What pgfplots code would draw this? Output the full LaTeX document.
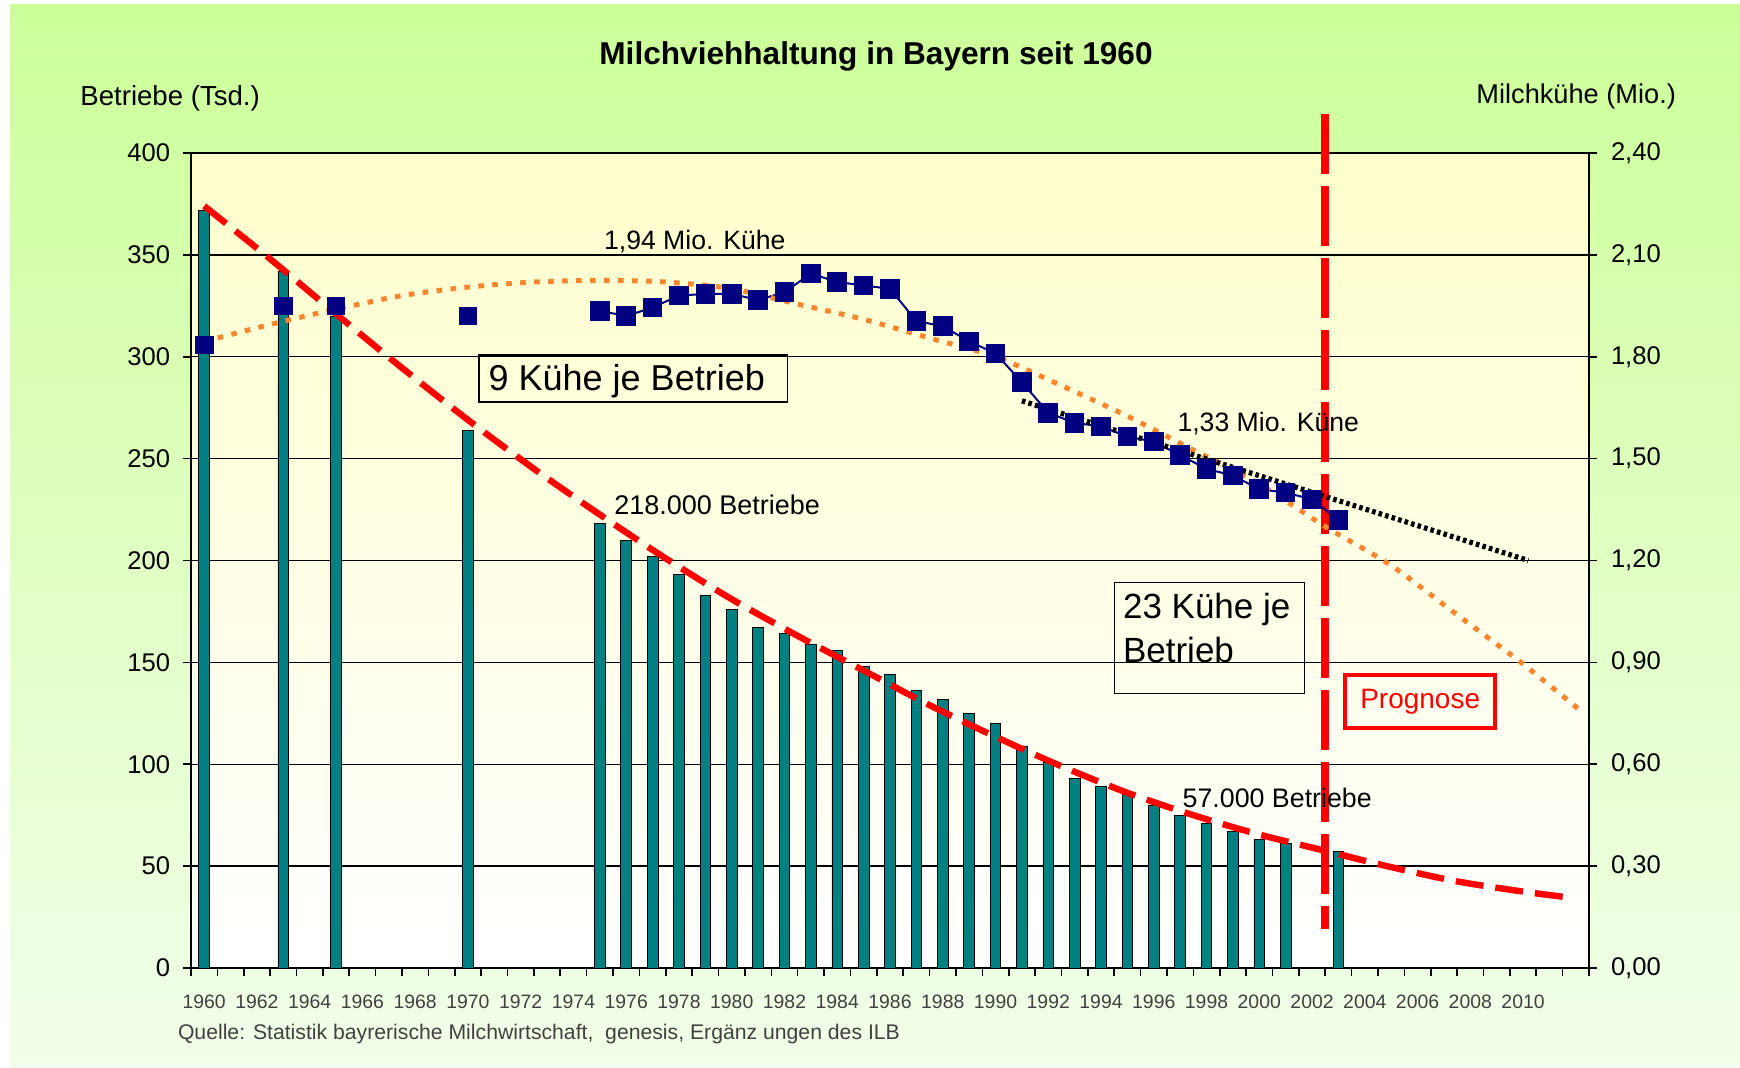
\documentclass[border=0pt]{standalone}
\usepackage{fontspec}
\setmainfont{Liberation Sans}
\usepackage{pgfplots}
\pgfplotsset{compat=1.18}
\definecolor{bggreen}{HTML}{CCFF99}
\definecolor{bgpale}{HTML}{F2FFEA}
\definecolor{plottop}{HTML}{FFFFCC}
\definecolor{barteal}{HTML}{008080}
\definecolor{navyblue}{HTML}{000080}
\definecolor{trendorange}{HTML}{F7862E}
\definecolor{labelgray}{HTML}{404040}
\begin{document}
\begin{tikzpicture}
\useasboundingbox (0,0) rectangle (870pt,534pt);
\fill[white] (0,0) rectangle (870pt,534pt);
\shade[top color=bggreen, bottom color=bgpale] (5pt,0) rectangle (870pt,531.5pt);

\begin{axis}[
  at={(95.5pt,50pt)}, anchor=south west,
  scale only axis, width=699pt, height=407.5pt,
  xmin=1959.5, xmax=2012.5, ymin=0, ymax=400,
  clip=false,
  axis background/.style={shade, top color=plottop, bottom color=white},
  axis line style={black, line width=0.9pt},
  ymajorgrids, grid style={black, line width=0.7pt},
  ytick={0,50,100,150,200,250,300,350,400},
  xtick={1960,1962,1964,1966,1968,1970,1972,1974,1976,1978,1980,1982,1984,1986,1988,1990,1992,1994,1996,1998,2000,2002,2004,2006,2008,2010},
  xticklabels={1960,1962,1964,1966,1968,1970,1972,1974,1976,1978,1980,1982,1984,1986,1988,1990,1992,1994,1996,1998,2000,2002,2004,2006,2008,2010},
  minor xtick={1959.5,1960.5,...,2012.5},
  major x tick style={draw=none},
  tick align=outside, xtick pos=left, ytick pos=left,
  major tick length=4pt, minor tick length=4pt,
  tick style={black, line width=0.8pt},
  /pgf/number format/assume math mode=true,
  yticklabel style={font=\fontsize{12.8}{14}\selectfont, inner sep=0pt, xshift=-6.3pt},
  xticklabel style={font=\fontsize{9.7}{11}\selectfont, text=labelgray, inner sep=0pt, yshift=-9.5pt},
]
% Betriebe (Tsd.)
\addplot[ybar, bar width=0.405, fill=barteal, draw=black, line width=0.4pt] coordinates {
(1960,372) (1963,342) (1965,320) (1970,264) (1975,218) (1976,210) (1977,202) (1978,193)
(1979,183) (1980,176) (1981,167) (1982,164) (1983,159) (1984,156) (1985,148) (1986,144)
(1987,136) (1988,132) (1989,125) (1990,120) (1991,109) (1992,101) (1993,93) (1994,89)
(1995,85) (1996,80) (1997,75) (1998,71) (1999,67) (2000,63) (2001,61) (2003,57)};
% trend Betriebe
\addplot[red, line width=3.2pt, dash pattern=on 14pt off 6pt, smooth] coordinates {
(1960,374) (1962.5,348) (1965,321) (1967.5,294.5) (1970,269) (1972.5,245) (1975,222.5)
(1977.5,201) (1980,181) (1982.5,163) (1985,146) (1987.5,129) (1990,113.5) (1992.5,99)
(1995,86) (1997.5,75) (2000,65.5) (2002.5,57.5) (2005,49.5) (2007.5,42.5) (2010,37.5) (2011.8,34.5)};
% Prognose line
\addplot[red, line width=4pt, dash pattern=on 30pt off 6pt] coordinates {(2002.5,419) (2002.5,19)};

\node[anchor=base, font=\fontsize{13.3}{16}\selectfont] at (axis cs:1978.6,352.6) {1,94 Mio. Kühe};
\node[anchor=base, font=\fontsize{13.3}{16}\selectfont] at (axis cs:2000.34,263.3) {1,33 Mio. Küne};
\node[anchor=base, font=\fontsize{13.5}{16}\selectfont] at (axis cs:1979.45,222.4) {218.000 Betriebe};
\node[anchor=base, font=\fontsize{13.4}{16}\selectfont] at (axis cs:2000.68,78.8) {57.000 Betriebe};

\draw[black, line width=0.6pt] (axis cs:1970.42,300.9) rectangle (axis cs:1982.10,277.8);
\node[anchor=base west, inner sep=0pt, font=\fontsize{18}{20}\selectfont] at (axis cs:1970.77,283.5) {9 Kühe je Betrieb};

\draw[black, line width=0.6pt] (axis cs:1994.51,189.1) rectangle (axis cs:2001.70,134.6);
\node[anchor=base west, inner sep=0pt, font=\fontsize{17.5}{20}\selectfont] at (axis cs:1994.82,171.5) {23 Kühe je};
\node[anchor=base west, inner sep=0pt, font=\fontsize{17.5}{20}\selectfont] at (axis cs:1994.82,150) {Betrieb};

\node[draw=red, line width=1.7pt, text=red, minimum width=75pt, minimum height=26.5pt, inner sep=0pt,
  font=\fontsize{14}{16}\selectfont] at (axis cs:2006.1,130.7) {Prognose};
\end{axis}

\begin{axis}[
  at={(95.5pt,50pt)}, anchor=south west,
  scale only axis, width=699pt, height=407.5pt,
  xmin=1959.5, xmax=2012.5, ymin=0, ymax=2.4,
  hide x axis, axis y line*=right,
  axis line style={black, line width=0.9pt},
  ytick={0,0.3,0.6,0.9,1.2,1.5,1.8,2.1,2.4},
  tick align=outside, major tick length=4pt,
  tick style={black, line width=0.8pt},
  /pgf/number format/assume math mode=true,
  yticklabel style={font=\fontsize{12.8}{14}\selectfont, inner sep=0pt, xshift=6.8pt,
    /pgf/number format/.cd, fixed, fixed zerofill, precision=2, use comma},
]
\addplot[only marks, mark=square*, mark size=4.4pt, navyblue] coordinates {
(1960,1.835) (1963,1.95) (1965,1.95) (1970,1.92)};
\addplot[navyblue, line width=1pt, mark=square*, mark size=4.4pt] coordinates {
(1975,1.935) (1976,1.92) (1977,1.945) (1978,1.98) (1979,1.985) (1980,1.985) (1981,1.967)
(1982,1.99) (1983,2.045) (1984,2.02) (1985,2.01) (1986,2.0) (1987,1.905) (1988,1.89)
(1989,1.845) (1990,1.81) (1991,1.725) (1992,1.635) (1993,1.605) (1994,1.595) (1995,1.565)
(1996,1.55) (1997,1.51) (1998,1.47) (1999,1.45) (2000,1.41) (2001,1.40) (2002,1.38) (2003,1.32)};
\addplot[trendorange, line width=2.5pt, dash pattern=on 2.8pt off 4.2pt, smooth] coordinates {
(1960,1.845) (1962.5,1.895) (1965,1.94) (1967.5,1.98) (1970,2.005) (1972.5,2.02) (1975,2.025)
(1977.5,2.02) (1980,2.00) (1982.5,1.955) (1985,1.91) (1987.5,1.855) (1990,1.80) (1992.5,1.715)
(1995,1.625) (1997.5,1.525) (2000,1.425) (2002.5,1.30) (2005,1.185) (2007.5,1.04) (2010,0.895) (2012.3,0.75)};
\addplot[black, line width=2.6pt, dash pattern=on 1.8pt off 1.6pt] coordinates {(1991,1.67) (2010.2,1.20)};
\end{axis}

\node[anchor=base, font=\bfseries\fontsize{15.8}{19}\selectfont] at (438pt,501.8pt) {Milchviehhaltung in Bayern seit 1960};
\node[anchor=base west, inner sep=0pt, font=\fontsize{13.8}{16}\selectfont] at (40pt,481pt) {Betriebe (Tsd.)};
\node[anchor=base west, inner sep=0pt, font=\fontsize{13.6}{16}\selectfont] at (738pt,482.4pt) {Milchkühe (Mio.)};
\node[anchor=base west, inner sep=0pt, text=labelgray, font=\fontsize{10.6}{12}\selectfont] at (88.8pt,14pt) {Quelle: Statistik bayrerische Milchwirtschaft,\ \ genesis, Ergänz ungen des ILB};
\end{tikzpicture}
\end{document}
